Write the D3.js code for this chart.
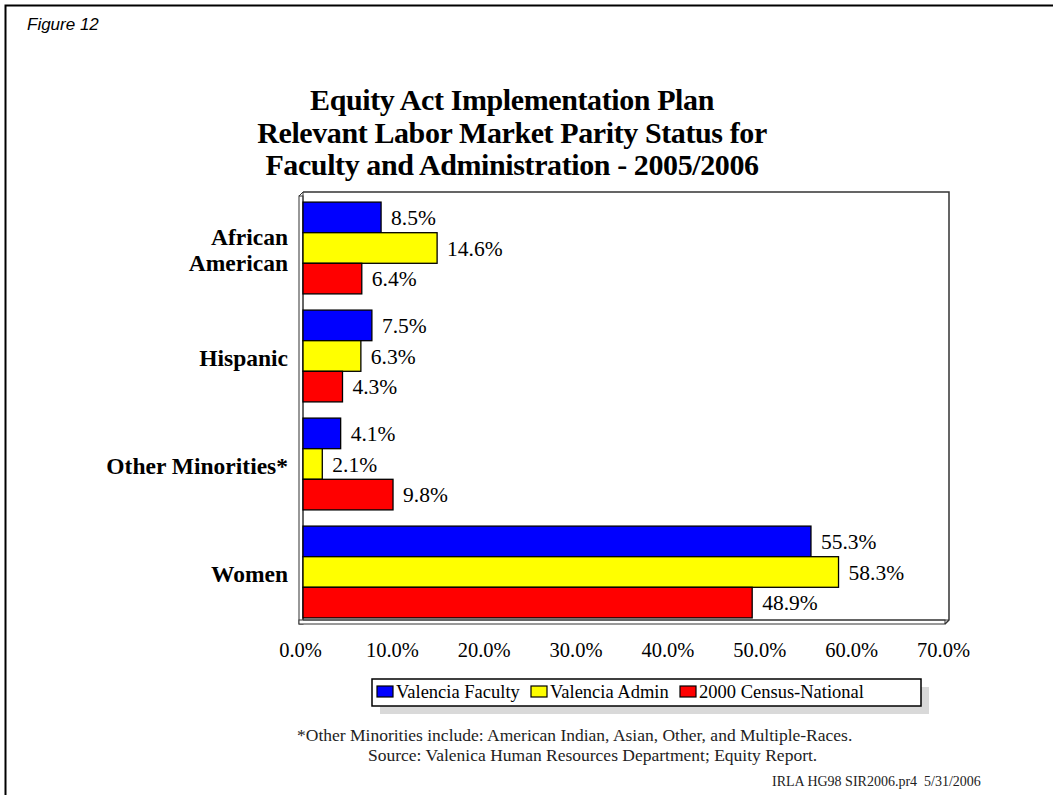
<!DOCTYPE html>
<html><head><meta charset="utf-8">
<script src="https://cdn.jsdelivr.net/npm/d3@7"></script>
<style>body{margin:0;background:#fff}svg{display:block}</style>
</head><body>
<script>
const categories = ["African American", "Hispanic", "Other Minorities*", "Women"];
const seriesNames = ["Valencia Faculty", "Valencia Admin", "2000 Census-National"];
const faculty = [8.5, 7.5, 4.1, 55.3];
const admin = [14.6, 6.3, 2.1, 58.3];
const census = [6.4, 4.3, 9.8, 48.9];
const xTicks = [0, 10, 20, 30, 40, 50, 60, 70];
const colors = ["#0000FF", "#FFFF00", "#FF0000"];
const titleLines = ["Equity Act Implementation Plan", "Relevant Labor Market Parity Status for", "Faculty and Administration - 2005/2006"];
const footLines = ["*Other Minorities include: American Indian, Asian, Other, and Multiple-Races.", "Source: Valenica Human Resources Department; Equity Report."];

(function () {
const W = 1053, H = 795;
const svg = d3.select("body").append("svg").attr("width", W).attr("height", H);
const serif = "'Liberation Serif','Times New Roman',serif";

// outer frame
svg.append("path").attr("d", `M5.5,${H} V5.5 H${W}`).attr("fill", "none").attr("stroke", "#000").attr("stroke-width", 2);
svg.append("text").attr("x", 27).attr("y", 30).attr("font-family", "'Liberation Sans',Arial,sans-serif")
  .attr("font-style", "italic").attr("font-size", 17).text("Figure 12");

// title
svg.append("g").selectAll("text").data(titleLines).join("text")
  .attr("x", 512).attr("y", (d, i) => 110 + i * 32.5).attr("text-anchor", "middle")
  .attr("font-family", serif).attr("font-weight", "bold").attr("font-size", 30).attr("letter-spacing", -0.4).text(d => d);

// scales
const x = d3.scaleLinear().domain([0, 70]).range([303, 946]);
const y = d3.scaleBand().domain(categories).range([194, 626]).paddingInner(0.15).paddingOuter(0.075);
const y1 = d3.scaleBand().domain(seriesNames).range([0, y.bandwidth()]);

const depth = 4;
const pTop = 192, pBot = 620, pLeft = x(0), pRight = x(70) + 3;
// 3D box
const box = svg.append("g").attr("fill", "none").attr("stroke", "#333").attr("stroke-width", 1);
box.append("rect").attr("x", pLeft - depth).attr("y", pTop + depth).attr("width", depth).attr("height", pBot - pTop).attr("fill", "#fff");
box.append("path").attr("d", `M${pLeft - depth},${pTop + depth} L${pLeft},${pTop} V${pBot} L${pLeft - depth},${pBot + depth}`);
box.append("rect").attr("x", pLeft - depth).attr("y", pBot).attr("width", pRight - pLeft).attr("height", depth).attr("fill", "#fff");
box.append("path").attr("d", `M${pRight - depth},${pBot + depth} L${pRight},${pBot} V${pTop} H${pLeft}`).attr("stroke-width", 1.5);
box.append("line").attr("x1", pLeft).attr("x2", pRight).attr("y1", pBot).attr("y2", pBot);

// bars
const rows = [];
categories.forEach((c, i) => {
  [faculty, admin, census].forEach((arr, j) => rows.push({ cat: c, s: seriesNames[j], v: arr[i], j }));
});
const g = svg.append("g");
g.selectAll("rect").data(rows).join("rect")
  .attr("x", x(0)).attr("y", d => y(d.cat) + y1(d.s))
  .attr("width", d => x(d.v) - x(0)).attr("height", y1.bandwidth())
  .attr("fill", d => colors[d.j]).attr("stroke", "#000").attr("stroke-width", 1.3);
g.selectAll("text").data(rows).join("text")
  .attr("x", d => x(d.v) + 10).attr("y", d => y(d.cat) + y1(d.s) + y1.bandwidth() / 2)
  .attr("dy", "0.35em").attr("font-family", serif).attr("font-size", 21.5).text(d => d.v.toFixed(1) + "%");

// category labels
const cl = svg.append("g").attr("font-family", serif).attr("font-weight", "bold").attr("font-size", 23.5).attr("text-anchor", "end");
categories.forEach(c => {
  const cy = y(c) + y.bandwidth() / 2 + 2;
  const parts = c === "African American" ? ["African", "American"] : [c];
  parts.forEach((p, k) => {
    cl.append("text").attr("x", 288).attr("y", cy + (k - (parts.length - 1) / 2) * 26).attr("dy", "0.35em").text(p);
  });
});

// x axis
const ax = svg.append("g").attr("transform", `translate(-3,${pBot + depth + 15})`)
  .call(d3.axisBottom(x).tickValues(xTicks).tickSize(0).tickFormat(d => d.toFixed(1) + "%"));
ax.select(".domain").remove();
ax.selectAll("text").attr("font-family", serif).attr("font-size", 20.5).attr("fill", "#000");

// legend
const lg = svg.append("g");
lg.append("rect").attr("x", 380).attr("y", 687).attr("width", 549).attr("height", 27).attr("fill", "#d9d9d9");
lg.append("rect").attr("x", 372).attr("y", 679).attr("width", 549).attr("height", 27).attr("fill", "#fff").attr("stroke", "#000").attr("stroke-width", 1.5);
const legX = [377, 531, 680];
seriesNames.forEach((s, i) => {
  lg.append("rect").attr("x", legX[i]).attr("y", 686).attr("width", 16).attr("height", 11)
    .attr("fill", colors[i]).attr("stroke", "#000").attr("stroke-width", 1.2);
  lg.append("text").attr("x", legX[i] + 19).attr("y", 692).attr("dy", "0.35em")
    .attr("font-family", serif).attr("font-size", 18.5).text(s);
});

// footnotes
svg.append("g").selectAll("text").data(footLines).join("text")
  .attr("x", (d, i) => i === 0 ? 297 : 368).attr("y", (d, i) => 741 + i * 19.5)
  .attr("font-family", serif).attr("font-size", 17.5).attr("fill", "#222").text(d => d);
svg.append("text").attr("x", 772).attr("y", 786).attr("font-family", serif).attr("font-size", 14)
  .attr("fill", "#222").attr("xml:space", "preserve").text("IRLA HG98 SIR2006.pr4  5/31/2006");
})();
</script>
</body></html>
